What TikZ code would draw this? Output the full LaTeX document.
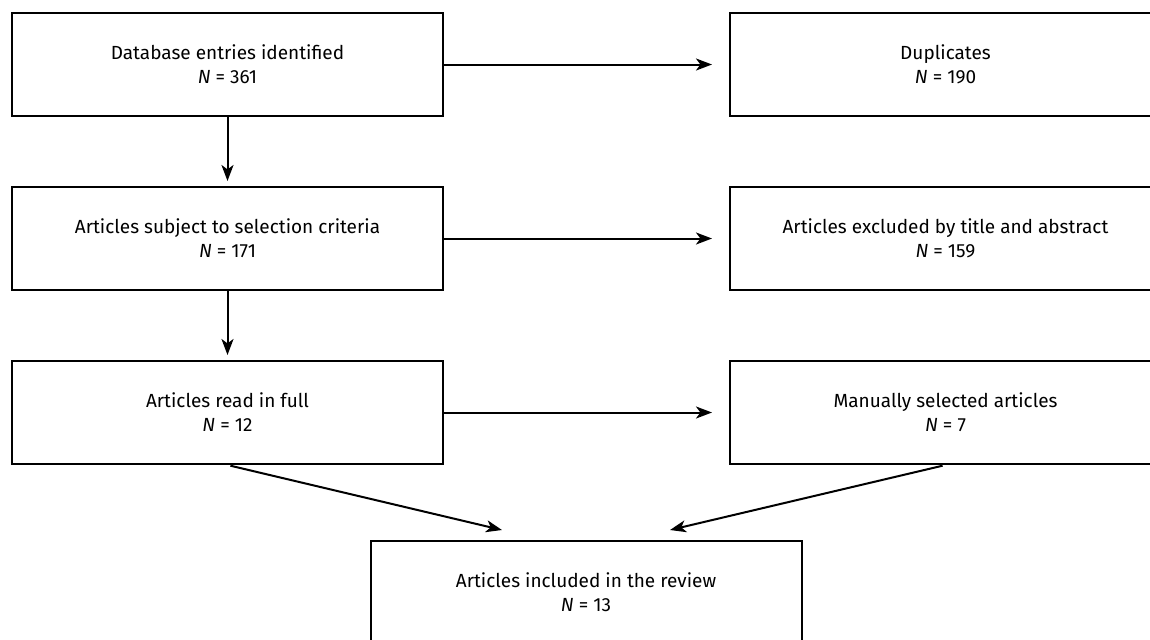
\documentclass[tikz,border=0pt]{standalone}
\usepackage{fontspec}
\setmainfont{Fira Sans}
\usepackage{tikz}
\usetikzlibrary{arrows.meta}
\tikzset{box/.style={draw,line width=1pt,minimum width=215.5pt,minimum height=51.5pt,
   align=center,font=\fontsize{9.5}{12}\selectfont},
 flow/.style={line width=1pt,-{Stealth[length=8pt,width=6pt,inset=2.2pt]}},
 }

\begin{document}
\begin{tikzpicture}[x=0.5pt,y=-0.5pt]
        \useasboundingbox (0,0) rectangle (1150,639);
        \clip (0,0) rectangle (1150,639);

        \node[box] (db) at (227.5,64.5) {Database entries identified\\{\itshape N} = 361};
        \node[box] (dup) at (945.5,64.5) {Duplicates\\{\itshape N} = 190};
        \draw[flow, shorten >=8.5pt] (db) -- (dup);
        
        \node[box] (sel) at (227.5,238.5) {Articles subject to selection criteria\\{\itshape N} = 171};
        \node[box] (excl) at (945.5,238.5) {Articles excluded by title and abstract\\{\itshape N} = 159};
        \draw[flow, shorten >=2.5pt] (db) -- (sel);
        \draw[flow, shorten >=8.5pt] (sel) -- (excl);
        
        \node[box] (full) at (227.5,412.5) {Articles read in full\\{\itshape N} = 12};
        \node[box] (manual) at (945.5,412.5) {Manually selected articles\\{\itshape N} = 7};
        \draw[flow, shorten >=2.5pt] (sel) -- (full);
        \draw[flow, shorten >=8.5pt] (full) -- (manual);
        
        \node[box] (incl) at (586,592.5) {Articles included in the review\\{\itshape N} = 13};
        \coordinate (inL) at (502,530);
        \coordinate (inR) at (670,530);
        \draw[flow, shorten <=1.5pt] (full.south) -- (inL);
        \draw[flow, shorten <=1.5pt] (manual.south) -- (inR);
    \end{tikzpicture}
\end{document}
